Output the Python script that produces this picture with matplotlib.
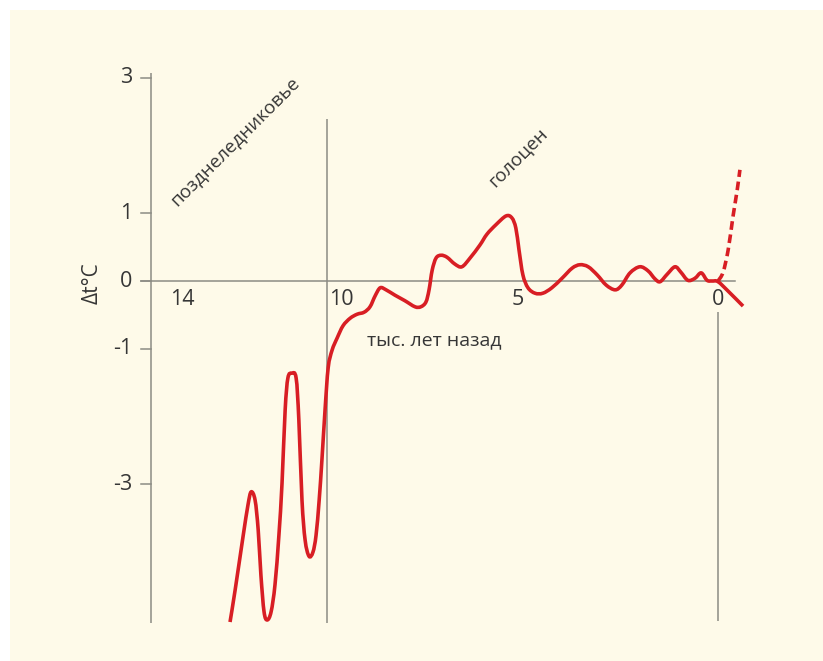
import matplotlib
matplotlib.use("Agg")
import matplotlib.pyplot as plt
from matplotlib.patches import Rectangle, PathPatch
from matplotlib.path import Path
import matplotlib.transforms as mtransforms
import numpy as np

plt.rcParams['font.family'] = ['Open Sans', 'DejaVu Sans']

# Temperature anomaly (deg C) vs. thousands of years before present
ka_solid = [12.48, 12.35, 12.15, 12.02, 11.94, 11.84, 11.76, 11.69, 11.61, 11.53,
            11.43, 11.33, 11.23, 11.15, 11.07, 11.00, 10.90, 10.79, 10.72, 10.64,
            10.56, 10.46, 10.36, 10.28, 10.20, 10.13, 10.05, 9.97, 9.87, 9.74,
            9.59, 9.41, 9.23, 9.05, 8.90, 8.77, 8.64, 8.49, 8.26, 8.01,
            7.75, 7.60, 7.47, 7.39, 7.31, 7.21, 7.08, 6.93, 6.73, 6.55,
            6.34, 6.09, 5.91, 5.68, 5.42, 5.27, 5.17, 5.09, 4.99, 4.86,
            4.68, 4.48, 4.25, 3.99, 3.73, 3.53, 3.32, 3.09, 2.86, 2.63,
            2.46, 2.25, 2.00, 1.79, 1.61, 1.48, 1.30, 1.10, 0.95, 0.77,
            0.59, 0.43, 0.28, 0.15, 0.00, -0.26, -0.64]
dt_solid = [-5.03, -4.56, -3.78, -3.30, -3.11, -3.23, -3.67, -4.34, -4.88, -5.00,
            -4.88, -4.48, -3.75, -2.98, -1.90, -1.43, -1.36, -1.43, -2.05, -3.23,
            -3.82, -4.06, -4.00, -3.75, -3.23, -2.64, -1.90, -1.28, -1.02, -0.84,
            -0.66, -0.55, -0.49, -0.46, -0.38, -0.22, -0.10, -0.13, -0.21, -0.29,
            -0.38, -0.38, -0.31, -0.13, 0.16, 0.34, 0.38, 0.35, 0.25, 0.21,
            0.34, 0.53, 0.69, 0.83, 0.96, 0.93, 0.78, 0.46, 0.09, -0.10,
            -0.18, -0.18, -0.10, 0.04, 0.19, 0.24, 0.21, 0.09, -0.06, -0.13,
            -0.06, 0.12, 0.21, 0.15, 0.03, -0.01, 0.10, 0.21, 0.13, 0.01,
            0.04, 0.12, 0.01, 0.00, -0.01, -0.15, -0.37]

# Projected warming branch
ka_dashed = [0.00, -0.13, -0.26, -0.38, -0.49, -0.56]
dt_dashed = [0.00, 0.13, 0.46, 0.94, 1.34, 1.64]

ytick_vals = [3, 1, 0, -1, -3]
ytick_labels = ['3', '1', '0', '-1', '-3']
xtick_vals = [14, 10, 5, 0]
xtick_labels = ['14', '10', '5', '0']
xtick_shift_px = [12, 14, -5, 0]


def smooth_path(xs, ys):
    """Cubic Bezier path passing through every point (Catmull-Rom tangents)."""
    p = np.column_stack([xs, ys]).astype(float)
    n = len(p)
    verts = [p[0]]
    codes = [Path.MOVETO]
    for i in range(n - 1):
        p0 = p[i - 1] if i > 0 else p[i]
        p1, p2 = p[i], p[i + 1]
        p3 = p[i + 2] if i + 2 < n else p[i + 1]
        c1 = p1 + (p2 - p0) / 6.0
        c2 = p2 - (p3 - p1) / 6.0
        verts += [c1, c2, p2]
        codes += [Path.CURVE4] * 3
    return Path(verts, codes)


W, H = 823, 661
fig = plt.figure(figsize=(W / 100, H / 100), dpi=100)
fig.patch.set_facecolor('white')

# cream panel behind the chart
bg = fig.add_axes([10 / W, 0, 1 - 10 / W, 1 - 10 / H], zorder=0)
bg.set_axis_off()
bg.add_patch(Rectangle((0, 0), 1, 1, transform=bg.transAxes,
                       facecolor='#fefae9', edgecolor='none'))

ax = fig.add_axes([0, 0, 1, 1], zorder=1)
ax.set_axis_off()
ax.patch.set_alpha(0)
ax.set_xlim(18.363, -2.685)
ax.set_ylim(-5.605, 4.145)

axis_col = '#8c8c84'
text_col = '#363636'
red = '#d81e24'

# axes and period separators
x_left = 14.50
ax.plot([x_left, x_left], [3.07, -5.04], color=axis_col, lw=1.1, solid_capstyle='butt')
ax.plot([14.75, -0.44], [0, 0], color=axis_col, lw=1.1)
ax.plot([10.0, 10.0], [2.39, -5.04], color=axis_col, lw=1.1, solid_capstyle='butt')
ax.plot([0.0, 0.0], [-0.46, -5.02], color=axis_col, lw=1.1, solid_capstyle='butt')

for v, lab in zip(ytick_vals, ytick_labels):
    ax.plot([14.75, x_left], [v, v], color=axis_col, lw=1.1)
    ax.text(14.98, v, lab, ha='right', va='center', fontsize=15.5, color=text_col)

for t, lab, dx in zip(xtick_vals, xtick_labels, xtick_shift_px):
    tr = ax.transData + mtransforms.ScaledTranslation(dx / 100, 0, fig.dpi_scale_trans)
    ax.text(t, -0.28, lab, ha='center', va='center', fontsize=15.5,
            color=text_col, transform=tr)

ax.text(16.0, -0.03, 'Δt°C', rotation=90, ha='center', va='center',
        fontsize=15, color=text_col)
ax.text(7.26, -0.88, 'тыс. лет назад', ha='center', va='center',
        fontsize=14, color=text_col)
ax.text(12.35, 2.06, 'позднеледниковье', rotation=45, ha='center', va='center',
        fontsize=13.5, color=text_col, rotation_mode='anchor')
ax.text(5.12, 1.83, 'голоцен', rotation=45, ha='center', va='center',
        fontsize=13.5, color=text_col, rotation_mode='anchor')

ax.add_patch(PathPatch(smooth_path(ka_solid, dt_solid), facecolor='none',
                       edgecolor=red, lw=2.6, joinstyle='round',
                       capstyle='butt', zorder=5))
ax.add_patch(PathPatch(smooth_path(ka_dashed, dt_dashed), facecolor='none',
                       edgecolor=red, lw=2.6, linestyle=(0, (2.4, 1.3)),
                       capstyle='butt', zorder=5))

fig.savefig('out.png', dpi=100)
